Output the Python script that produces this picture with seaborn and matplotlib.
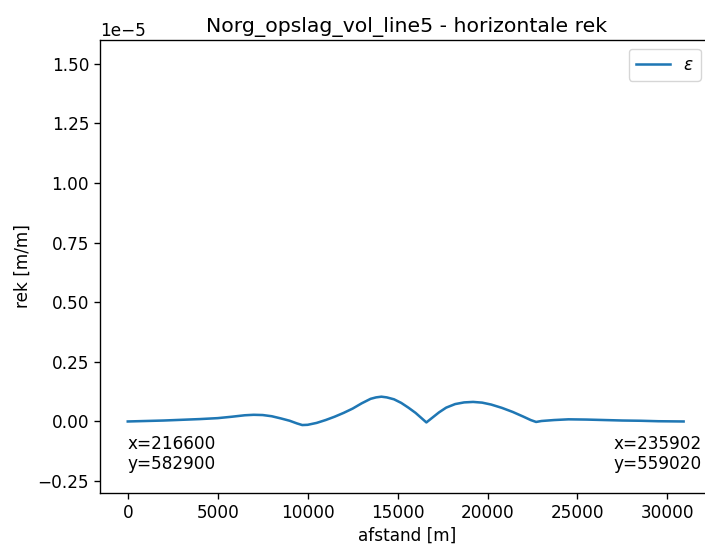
import matplotlib
matplotlib.use("Agg")
import matplotlib.pyplot as plt
import seaborn as sns
import pandas as pd

# distance along the profile [m]
afstand = [0, 1000, 2000, 3000, 4000, 5000, 5800, 6500, 7000, 7500, 8000,
           8500, 9000, 9400, 9700, 10000, 10500, 11000, 11500, 12000, 12500,
           13000, 13500, 13800, 14100, 14400, 14800, 15200, 15600, 16000,
           16300, 16600, 16900, 17300, 17700, 18200, 18700, 19200, 19700,
           20200, 20800, 21400, 22000, 22400, 22700, 23000, 23700, 24500,
           25500, 26500, 27500, 28500, 29500, 30900]
# horizontal strain [m/m]
rek = [0.000e-5, 0.002e-5, 0.004e-5, 0.007e-5, 0.010e-5, 0.014e-5, 0.020e-5,
       0.026e-5, 0.028e-5, 0.027e-5, 0.022e-5, 0.013e-5, 0.003e-5, -0.008e-5,
       -0.015e-5, -0.014e-5, -0.006e-5, 0.006e-5, 0.020e-5, 0.036e-5,
       0.054e-5, 0.076e-5, 0.095e-5, 0.101e-5, 0.104e-5, 0.101e-5, 0.093e-5,
       0.078e-5, 0.058e-5, 0.036e-5, 0.016e-5, -0.004e-5, 0.014e-5, 0.038e-5,
       0.058e-5, 0.073e-5, 0.080e-5, 0.082e-5, 0.079e-5, 0.071e-5, 0.057e-5,
       0.040e-5, 0.020e-5, 0.006e-5, -0.002e-5, 0.002e-5, 0.006e-5, 0.009e-5,
       0.008e-5, 0.006e-5, 0.004e-5, 0.003e-5, 0.001e-5, 0.000e-5]

title = "Norg_opslag_vol_line5 - horizontale rek"
start_label = "x=216600\ny=582900"
end_label = "x=235902\ny=559020"

df = pd.DataFrame({"afstand": afstand, "rek": rek})

s = 1.22
plt.rcParams.update({
    "font.size": 10 * s,
    "axes.linewidth": 0.8 * s,
    "xtick.major.width": 0.8 * s,
    "ytick.major.width": 0.8 * s,
    "xtick.major.size": 3.5 * s,
    "ytick.major.size": 3.5 * s,
})

fig = plt.figure(figsize=(7.05, 5.49), dpi=100)
# the reference is cropped: the right part of the axes lies outside the image
ax = fig.add_axes([100 / 705, 1 - 493 / 549, 700 / 705, 453 / 549])

sns.lineplot(data=df, x="afstand", y="rek", ax=ax, color="#1f77b4",
             linewidth=1.5 * s, label=r"$\varepsilon$")

ax.set_ylim(-0.3e-5, 1.6e-5)
ax.set_xlim(-1544, 37371)
ax.set_xticks([0, 5000, 10000, 15000, 20000, 25000, 30000])
ax.set_yticks([-0.25e-5, 0, 0.25e-5, 0.5e-5, 0.75e-5, 1.0e-5, 1.25e-5, 1.5e-5])
ax.set_title(title, x=(407 - 100) / 700)
ax.set_xlabel("afstand [m]")
ax.xaxis.set_label_coords((407 - 100) / 700, -0.075)
ax.set_ylabel("rek [m/m]")

ax.text(afstand[0], -0.055e-5, start_label, ha="left", va="top")
ax.text(31900, -0.055e-5, end_label, ha="right", va="top")

ax.legend(loc="upper left", bbox_to_anchor=(629 / 705, 1 - 49 / 549),
          bbox_transform=fig.transFigure, borderaxespad=0)

fig.savefig("out.png", dpi=100)
